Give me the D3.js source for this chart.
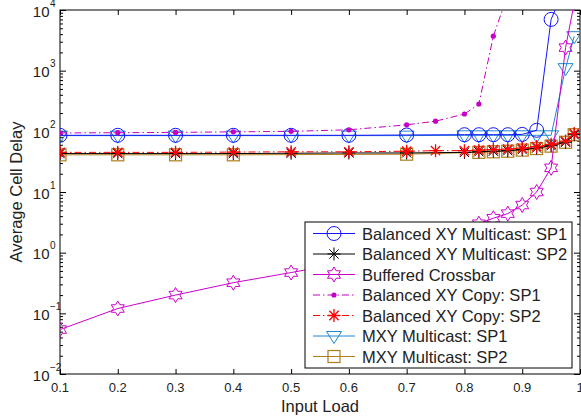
<!DOCTYPE html>
<html><head><meta charset="utf-8">
<script src="https://cdn.jsdelivr.net/npm/d3@7"></script>
<style>body{margin:0;background:#fff}svg{display:block;font-family:"Liberation Sans",Arial,sans-serif}</style>
</head><body><svg id="c" width="581" height="419"></svg>
<script>
// ---- data ----
const xTicks = [0.1,0.2,0.3,0.4,0.5,0.6,0.7,0.8,0.9,1];
const xTickLabels = ["0.1","0.2","0.3","0.4","0.5","0.6","0.7","0.8","0.9","1"];
const yTickExps = [-2,-1,0,1,2,3,4];

const seriesNames = ["Balanced XY Multicast: SP1","Balanced XY Multicast: SP2","Buffered Crossbar",
  "Balanced XY Copy: SP1","Balanced XY Copy: SP2","MXY Multicast: SP1","MXY Multicast: SP2"];

const bxyMultiSP1_x = [0.1,0.2,0.3,0.4,0.5,0.6,0.7,0.8,0.825,0.85,0.875,0.9,0.925,0.95,0.975];
const bxyMultiSP1_y = [86,86,86,86,86,86,87,88,88,88,88,89,104,7000,25000];

const bxyMultiSP2_x = [0.1,0.2,0.3,0.4,0.5,0.6,0.7,0.8,0.825,0.85,0.875,0.9,0.925,0.95,0.975,0.99];
const bxyMultiSP2_y = [43,43,43,43,43.5,44,44,45,46,47,48,50,53,58,66,88];

const bufXbar_x = [0.1,0.2,0.3,0.4,0.5,0.6,0.7,0.8,0.825,0.85,0.875,0.9,0.925,0.95,0.975,0.99];
const bufXbar_y = [0.054,0.12,0.2,0.32,0.47,0.7,1.15,2.3,3.0,3.7,4.4,6.1,10,25,2400,13000];

const bxyCopySP1_x = [0.1,0.2,0.3,0.4,0.5,0.6,0.7,0.75,0.8,0.825,0.85,0.875];
const bxyCopySP1_y = [94,95,96,98,100,106,128,147,193,282,3700,18000];

const bxyCopySP2_x = [0.1,0.2,0.3,0.4,0.5,0.6,0.7,0.75,0.8,0.825,0.85,0.875,0.9,0.925,0.95,0.975,0.99];
const bxyCopySP2_y = [45,45,45,45.5,46,46,47,48,48,49,50,51,53,56,61,69,92];

const mxySP1_x = [0.1,0.2,0.3,0.4,0.5,0.6,0.7,0.8,0.825,0.85,0.875,0.9,0.925,0.95,0.975,0.99];
const mxySP1_y = [85,85,85,85,85,85,85,86,86,86,86,86,86,86,1100,3700];

const mxySP2_x = [0.1,0.2,0.3,0.4,0.7,0.825,0.85,0.875,0.9,0.925,0.95,0.975,0.99];
const mxySP2_y = [41,41,41,41,42,45,46,47,49,52,57,66,88];

// ---- styles ----
const styles = [
  {color:"#1414ff", marker:"circle", dash:null, w:1},
  {color:"#000000", marker:"asterisk", dash:null, w:1},
  {color:"#cc00cc", marker:"hexagram", dash:null, w:1},
  {color:"#c400c4", marker:"dot", dash:"7,3,1.5,3", w:1},
  {color:"#ff0000", marker:"asterisk", dash:"7,3,1.5,3", w:1.3},
  {color:"#1e88d0", marker:"triangle", dash:null, w:1},
  {color:"#b07d1a", marker:"square", dash:null, w:1}
];
const series = [
  [bxyMultiSP1_x,bxyMultiSP1_y],[bxyMultiSP2_x,bxyMultiSP2_y],[bufXbar_x,bufXbar_y],
  [bxyCopySP1_x,bxyCopySP1_y],[bxyCopySP2_x,bxyCopySP2_y],[mxySP1_x,mxySP1_y],[mxySP2_x,mxySP2_y]
];

const L=60,R=580,T=10,B=374;
const svg = d3.select("#c");
const x = d3.scaleLinear().domain([0.1,1]).range([L,R]);
const y = d3.scaleLog().domain([1e-2,1e4]).range([B,T]);

svg.append("defs").append("clipPath").attr("id","clip")
  .append("rect").attr("x",L).attr("y",T).attr("width",R-L).attr("height",B-T);

// axes (inside ticks, box)
const ax = svg.append("g");
const xAxB = d3.axisBottom(x).tickValues(xTicks).tickSize(-5).tickFormat(()=>"");
const xAxT = d3.axisTop(x).tickValues(xTicks).tickSize(-5).tickFormat(()=>"");
ax.append("g").attr("transform",`translate(0,${B})`).call(xAxB);
ax.append("g").attr("transform",`translate(0,${T})`).call(xAxT);
const major = yTickExps.map(e=>Math.pow(10,e));
const minor = [];
yTickExps.slice(0,-1).forEach(e=>{for(let k=2;k<=9;k++)minor.push(k*Math.pow(10,e));});
ax.append("g").attr("transform",`translate(${L},0)`).call(d3.axisLeft(y).tickValues(major).tickSize(-6).tickFormat(()=>""));
ax.append("g").attr("transform",`translate(${R},0)`).call(d3.axisRight(y).tickValues(major).tickSize(-6).tickFormat(()=>""));
ax.append("g").attr("transform",`translate(${L},0)`).call(d3.axisLeft(y).tickValues(minor).tickSize(-3).tickFormat(()=>""));
ax.append("g").attr("transform",`translate(${R},0)`).call(d3.axisRight(y).tickValues(minor).tickSize(-3).tickFormat(()=>""));
ax.selectAll(".domain").remove();
ax.selectAll("line").attr("stroke","#000").attr("stroke-width",1);
svg.append("rect").attr("x",L).attr("y",T).attr("width",R-L).attr("height",B-T)
  .attr("fill","none").attr("stroke","#000").attr("stroke-width",1);

// tick labels
svg.append("g").selectAll("text").data(xTicks).join("text")
  .attr("x",d=>x(d)).attr("y",392).attr("text-anchor","middle")
  .attr("font-size",13).attr("fill","#222").text((d,i)=>xTickLabels[i]);
const yl = svg.append("g").selectAll("g").data(yTickExps).join("g");
yl.append("text").attr("x",49.5).attr("y",d=>y(Math.pow(10,d))+6.5).attr("text-anchor","end")
  .attr("font-size",15).attr("fill","#222").text("10");
yl.append("text").attr("x",50).attr("y",d=>y(Math.pow(10,d))-3.5)
  .attr("font-size",10).attr("fill","#222").text(d=>d<0?"\u2212"+(-d):String(d));

svg.append("text").attr("x",(L+R)/2).attr("y",412).attr("text-anchor","middle")
  .attr("font-size",16.5).attr("fill","#222").text("Input Load");
svg.append("text").attr("transform",`translate(22,${(T+B)/2}) rotate(-90)`).attr("text-anchor","middle")
  .attr("font-size",16.5).attr("fill","#222").text("Average Cell Delay");

// markers
function drawMarker(g, type, cx, cy, color, w){
  if(type==="circle"){
    g.append("circle").attr("cx",cx).attr("cy",cy).attr("r",7).attr("fill","none").attr("stroke",color).attr("stroke-width",w);
  } else if(type==="asterisk"){
    const s=6.5, d=s*0.72;
    const p=`M${cx-s},${cy}L${cx+s},${cy}M${cx},${cy-s}L${cx},${cy+s}M${cx-d},${cy-d}L${cx+d},${cy+d}M${cx-d},${cy+d}L${cx+d},${cy-d}`;
    g.append("path").attr("d",p).attr("stroke",color).attr("stroke-width",w).attr("fill","none");
  } else if(type==="hexagram"){
    const ro=7.5, ri=ro/Math.sqrt(3); const pts=[];
    for(let i=0;i<12;i++){const a=-Math.PI/2+i*Math.PI/6; const r=i%2?ri:ro; pts.push([cx+r*Math.cos(a),cy+r*Math.sin(a)]);}
    g.append("path").attr("d","M"+pts.map(p=>p.join(",")).join("L")+"Z").attr("fill","none").attr("stroke",color).attr("stroke-width",w);
  } else if(type==="dot"){
    g.append("circle").attr("cx",cx).attr("cy",cy).attr("r",2.6).attr("fill",color);
  } else if(type==="triangle"){
    const tw=7.5, h=7.5;
    g.append("path").attr("d",`M${cx-tw},${cy-h*0.6}L${cx+tw},${cy-h*0.6}L${cx},${cy+h}Z`).attr("fill","none").attr("stroke",color).attr("stroke-width",w);
  } else if(type==="square"){
    const s=6;
    g.append("rect").attr("x",cx-s).attr("y",cy-s).attr("width",2*s).attr("height",2*s).attr("fill","none").attr("stroke",color).attr("stroke-width",1.2);
  }
}

const plot = svg.append("g").attr("clip-path","url(#clip)");
const line = d3.line().x(d=>x(d[0])).y(d=>y(d[1]));
const order = [6,5,0,1,2,3,4];
order.forEach(i=>{
  const st=styles[i]; const xs=series[i][0], ys=series[i][1];
  const pts = xs.map((v,j)=>[v,ys[j]]);
  const g = plot.append("g");
  g.append("path").datum(pts).attr("d",line).attr("fill","none").attr("stroke",st.color)
    .attr("stroke-width",1).attr("stroke-dasharray",st.dash);
  pts.forEach(p=>drawMarker(g, st.marker, x(p[0]), y(p[1]), st.color, st.w));
});

// legend
const lg = svg.append("g");
lg.append("rect").attr("x",305).attr("y",222).attr("width",267).attr("height",146)
  .attr("fill","#fff").attr("stroke","#000").attr("stroke-width",1);
seriesNames.forEach((n,i)=>{
  const cy = 233.5 + i*20.5, st=styles[i];
  lg.append("line").attr("x1",313).attr("x2",355).attr("y1",cy).attr("y2",cy)
    .attr("stroke",st.color).attr("stroke-width",1).attr("stroke-dasharray",st.dash);
  drawMarker(lg, st.marker, 334, cy, st.color, st.w);
  lg.append("text").attr("x",362).attr("y",cy+6).attr("font-size",16.5).attr("fill","#222").text(n);
});
</script></body></html>
